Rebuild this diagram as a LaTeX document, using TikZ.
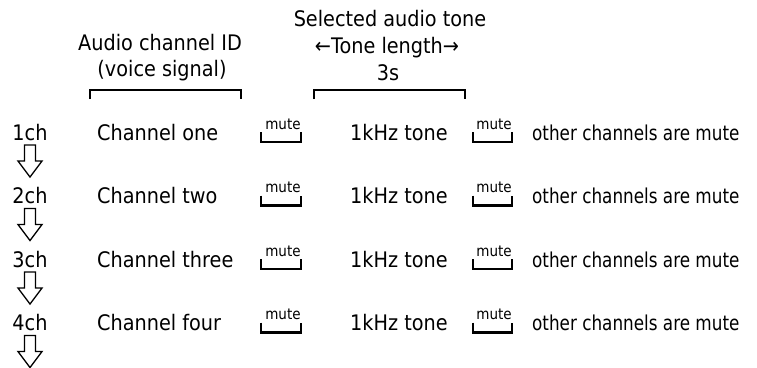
\documentclass[tikz,border=0pt]{standalone}
\usepackage{fontspec}
\setmainfont[FakeStretch=0.9]{DejaVu Sans}
\newfontfamily\tightfont[FakeStretch=0.82]{DejaVu Sans}
\usepackage{tikz}

\begin{document}
\begin{tikzpicture}[x=1pt,y=-1pt,
  lbl/.style={font=\fontsize{21.4}{24}\selectfont, inner sep=0pt},
  note/.style={font=\tightfont\fontsize{20.5}{24}\selectfont, inner sep=0pt},
  mutelbl/.style={font=\fontsize{15}{17}\selectfont, inner sep=0pt},
  brk/.style={line width=2.6pt},
  downarrow/.style={line width=1.3pt}]
\useasboundingbox (0,0) rectangle (757,367);
% headings
\node[lbl, anchor=base] (sel) at (390,26) {Selected audio tone};
\node[lbl, anchor=base] (tlen) at (387,53) {←Tone length→};
\node[lbl, anchor=base] (secs) at (388,80) {3s};
\node[lbl, anchor=base] (aid) at (160,50) {Audio channel ID};
\node[lbl, anchor=base] (voice) at (162,76) {(voice signal)};
\draw[brk] (90,99) -- (90,90) -- (241,90) -- (241,99);
\draw[brk] (314,99) -- (314,90) -- (465,90) -- (465,99);
% one row per channel
\foreach \i/\nm in {1/one,2/two,3/three,4/four}{
  \pgfmathsetmacro{\yb}{140+63.5*(\i-1)}
  \node[lbl, anchor=base] (ch\i) at (30,\yb) {\i ch};
  \node[lbl, anchor=base west] (name\i) at (97,\yb) {Channel \nm};
  \draw[brk] (261,\yb-8) -- (261,\yb+2) -- (301,\yb+2) -- (301,\yb-8);
  \node[mutelbl, anchor=base] (muteA\i) at (283,\yb-11) {mute};
  \node[lbl, anchor=base west] (tone\i) at (350,\yb) {1kHz tone};
  \draw[brk] (473,\yb-8) -- (473,\yb+2) -- (512,\yb+2) -- (512,\yb-8);
  \node[mutelbl, anchor=base] (muteB\i) at (494,\yb-11) {mute};
  \node[note, anchor=base west] (rest\i) at (532,\yb) {other channels are mute};
  \draw[downarrow] (24.5,\yb+5) -- (35.5,\yb+5) -- (35.5,\yb+21) -- (42,\yb+21)
    -- (30,\yb+37) -- (18,\yb+21) -- (24.5,\yb+21) -- cycle;
}
\end{tikzpicture}
\end{document}
